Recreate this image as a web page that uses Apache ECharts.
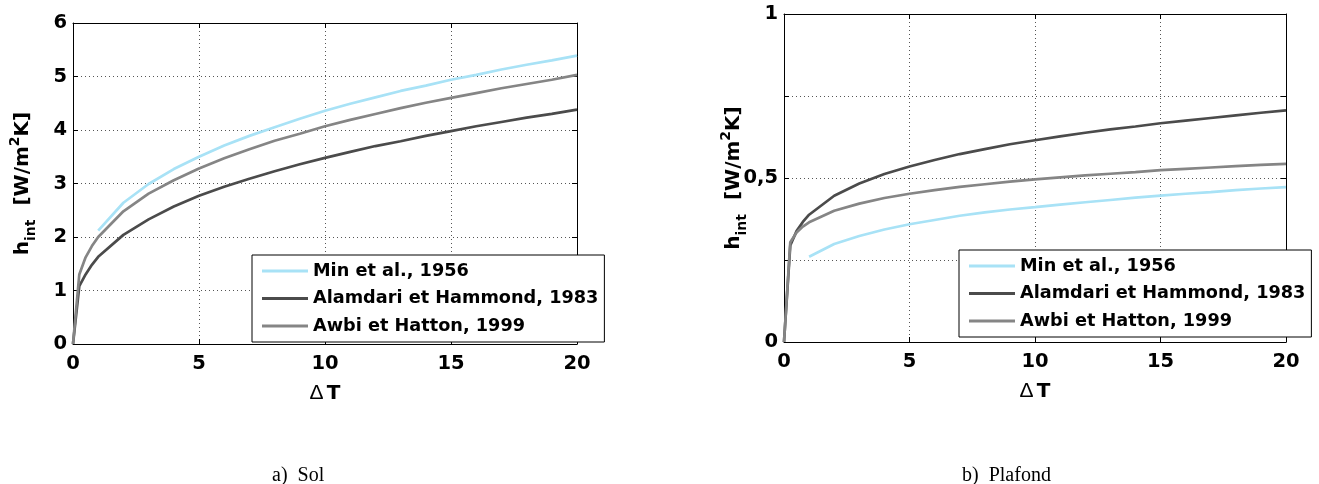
<!DOCTYPE html>
<html>
<head>
<meta charset="utf-8">
<script src="https://cdn.jsdelivr.net/npm/echarts@6/dist/echarts.min.js"></script>
<style>
html,body{margin:0;padding:0;background:#fff;}
#c{width:1319px;height:484px;}
</style>
</head>
<body>
<div id="c"></div>
<script>
// ---- data ----
var seriesNames = ['Min et al., 1956', 'Alamdari et Hammond, 1983', 'Awbi et Hatton, 1999'];
var dtMin  = [1,2,3,4,5,6,7,8,9,10,11,12,13,14,15,16,17,18,19,20];
var dtFine = [0,0.25,0.5,0.75,1,2,3,4,5,6,7,8,9,10,11,12,13,14,15,16,17,18,19,20];

// a) Sol
var solMin       = [2.12,2.64,2.99,3.27,3.50,3.71,3.89,4.05,4.21,4.36,4.49,4.61,4.73,4.83,4.94,5.03,5.13,5.22,5.30,5.39];
var solAlamdari  = [0,1.08,1.30,1.48,1.63,2.04,2.33,2.57,2.77,2.94,3.09,3.23,3.36,3.48,3.59,3.70,3.79,3.89,3.98,4.07,4.15,4.23,4.30,4.38];
var solAwbi      = [0,1.30,1.62,1.83,2.00,2.48,2.81,3.06,3.28,3.47,3.64,3.80,3.93,4.07,4.19,4.30,4.41,4.51,4.60,4.69,4.78,4.86,4.94,5.03];

// b) Plafond
var plafMin      = [0.260,0.299,0.323,0.343,0.359,0.372,0.385,0.395,0.404,0.411,0.419,0.426,0.433,0.440,0.446,0.452,0.457,0.463,0.468,0.472];
var plafAlamdari = [0,0.294,0.338,0.366,0.388,0.446,0.483,0.512,0.535,0.555,0.573,0.588,0.603,0.615,0.627,0.638,0.648,0.657,0.667,0.675,0.683,0.691,0.699,0.706];
var plafAwbi     = [0,0.304,0.334,0.352,0.365,0.400,0.422,0.439,0.452,0.463,0.473,0.481,0.489,0.496,0.502,0.508,0.513,0.518,0.524,0.528,0.532,0.536,0.540,0.543];

var xTicks = [0,5,10,15,20];
var solYTicks = [0,1,2,3,4,5,6];
var plafYTickLabels = {'0':'0','0.5':'0,5','1':'1'};

var captions = ['a)  Sol', 'b)  Plafond'];
// -------------------------------------

var colors = ['#a8e2f6', '#4b4b4b', '#858585'];
function pairs(xs, ys){ return xs.map(function(x,i){ return [x, ys[i]]; }); }

var FONT = 'DejaVu Sans';
var labelStyle = {fontFamily: FONT, fontWeight: 'bold', fontSize: 19.5, color: '#000'};

var yNameRich = {
  b: {fontFamily: FONT, fontWeight: 'bold', fontSize: 20, color: '#000', lineHeight: 30},
  s: {fontFamily: FONT, fontWeight: 'bold', fontSize: 14, color: '#000', verticalAlign: 'bottom', lineHeight: 13},
  p: {fontFamily: FONT, fontWeight: 'bold', fontSize: 14, color: '#000', verticalAlign: 'top', lineHeight: 13}
};
var xNameRich = {
  d: {fontFamily: 'Liberation Sans', fontWeight: 'normal', fontSize: 21, color: '#000'},
  t: {fontFamily: FONT, fontWeight: 'bold', fontSize: 20, color: '#000'}
};

var grids = [
  {left: 73, top: 23, width: 504, height: 321},
  {left: 784, top: 14, width: 502, height: 328}
];

function mainX(gi){
  return {
    type: 'value', gridIndex: gi, min: 0, max: 20, interval: 5,
    axisLine: {show: true, onZero: false, lineStyle: {color: '#000', width: 1}},
    axisTick: {show: true, inside: true, length: 5, lineStyle: {color: '#000'}},
    axisLabel: Object.assign({margin: 10}, labelStyle),
    splitLine: {show: true, lineStyle: {color: '#555', type: [1, 3], width: 1}},
    name: '{d|\u0394} {t|T}', nameLocation: 'middle', nameGap: 39, nameMoveOverlap: false,
    nameTextStyle: {rich: xNameRich}
  };
}
function topX(gi){
  return {
    type: 'value', gridIndex: gi, position: 'top', min: 0, max: 20, interval: 5,
    axisLine: {show: true, onZero: false, lineStyle: {color: '#000', width: 1}},
    axisTick: {show: true, inside: true, length: 5, lineStyle: {color: '#000'}},
    axisLabel: {show: false}, splitLine: {show: false}
  };
}
function mainY(gi, max, interval, fmt){
  return {
    type: 'value', gridIndex: gi, min: 0, max: max, interval: interval,
    axisLine: {show: true, onZero: false, lineStyle: {color: '#000', width: 1}},
    axisTick: {show: true, inside: true, length: 5, lineStyle: {color: '#000'}},
    axisLabel: Object.assign({margin: 6, formatter: fmt}, labelStyle),
    splitLine: {show: true, lineStyle: {color: '#555', type: [1, 3], width: 1}},
    name: '{b|h}{s|int}{b|  [W/m}{p|2}{b|K]}', nameLocation: 'middle', nameRotate: 90, nameGap: 35,
    nameMoveOverlap: false,
    nameTextStyle: {rich: yNameRich}
  };
}
function rightY(gi, max, interval){
  return {
    type: 'value', gridIndex: gi, position: 'right', min: 0, max: max, interval: interval,
    axisLine: {show: true, onZero: false, lineStyle: {color: '#000', width: 1}},
    axisTick: {show: true, inside: true, length: 5, lineStyle: {color: '#000'}},
    axisLabel: {show: false}, splitLine: {show: false}
  };
}

function lineSeries(name, xi, yi, data, color){
  return {
    name: name, type: 'line', xAxisIndex: xi, yAxisIndex: yi, data: data,
    showSymbol: false, symbol: 'none', smooth: false, animation: false,
    lineStyle: {color: color, width: 2.7}, itemStyle: {color: color}, z: 3
  };
}

function legendAt(left, top){
  return {
    orient: 'vertical', left: left, top: top, data: seriesNames,
    icon: 'rect', itemWidth: 46, itemHeight: 3, itemGap: 7.5,
    padding: [6, 6, 6, 10],
    backgroundColor: '#fff', borderColor: '#000', borderWidth: 1,
    selectedMode: false,
    textStyle: {fontFamily: FONT, fontWeight: 'bold', fontSize: 17.7, color: '#000', lineHeight: 20}
  };
}

var option = {
  animation: false,
  backgroundColor: '#fff',
  grid: grids,
  xAxis: [mainX(0), topX(0), mainX(1), topX(1)],
  yAxis: [
    mainY(0, 6, 1, function(v){ return String(v); }),
    rightY(0, 6, 1),
    mainY(1, 1, 0.25, function(v){ var k = String(v); return plafYTickLabels.hasOwnProperty(k) ? plafYTickLabels[k] : ''; }),
    rightY(1, 1, 0.25)
  ],
  legend: [legendAt(252, 255), legendAt(959, 250)],
  series: [
    lineSeries(seriesNames[0], 0, 0, pairs(dtMin, solMin), colors[0]),
    lineSeries(seriesNames[1], 0, 0, pairs(dtFine, solAlamdari), colors[1]),
    lineSeries(seriesNames[2], 0, 0, pairs(dtFine, solAwbi), colors[2]),
    lineSeries(seriesNames[0], 2, 2, pairs(dtMin, plafMin), colors[0]),
    lineSeries(seriesNames[1], 2, 2, pairs(dtFine, plafAlamdari), colors[1]),
    lineSeries(seriesNames[2], 2, 2, pairs(dtFine, plafAwbi), colors[2])
  ],
  graphic: [
    {type: 'text', left: 272, top: 466, style: {text: captions[0], font: '20px "Liberation Serif"', fill: '#000'}},
    {type: 'text', left: 962, top: 466, style: {text: captions[1], font: '20px "Liberation Serif"', fill: '#000'}}
  ]
};

var chart = echarts.init(document.getElementById('c'), null, {renderer: 'canvas'});
chart.setOption(option);
</script>
</body>
</html>
